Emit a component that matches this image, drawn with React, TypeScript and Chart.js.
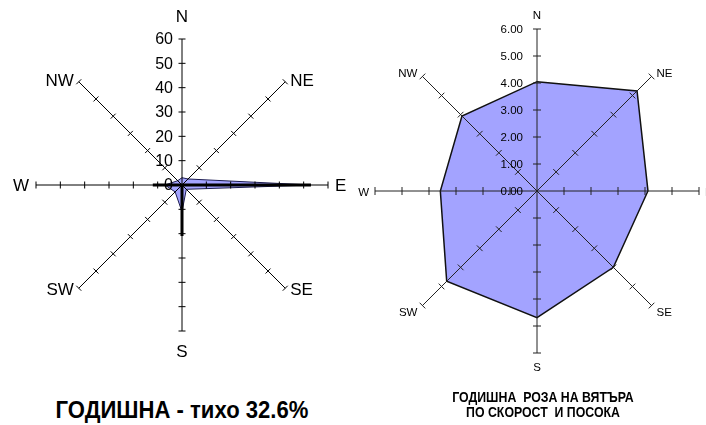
import React, { useEffect, useRef } from 'react';
import { Chart, registerables } from 'chart.js';

Chart.register(...registerables);

// ---- data ----
const directions = ['N', 'NE', 'E', 'SE', 'S', 'SW', 'W', 'NW'];
const freqTicks = [0, 10, 20, 30, 40, 50, 60];
const freqValues = [3, 3.5, 53, 2.5, 11, 4, 7, 2.5];
const freqPeak = [0, 0, 53, 0, 21, 0, 12, 0];
const speedTicks = [0, 1, 2, 3, 4, 5, 6];
const speedValues = [4.05, 5.24, 4.11, 4.0, 4.69, 4.73, 3.58, 3.93];
const leftTitle = 'ГОДИШНА - тихо 32.6%';
const rightTitle = ['ГОДИШНА  РОЗА НА ВЯТЪРА', 'ПО СКОРОСТ  И ПОСОКА'];

const FONT = '"Liberation Sans", Arial, sans-serif';

type AxisCfg = {
  ticks: number[];
  fmt: (v: number) => string;
  axisColor: string;
  tickLen: number;
  tickFont: string;
  tickGap: number;
  labelFont: string;
  gapTop: number;
  gapBottom: number;
  gapSide: number;
  gapDiag: number;
  diagDy: number;
  yShift: number;
};

function makeAxisPlugin(cfg: AxisCfg) {
  return {
    id: 'windAxes',
    afterDatasetsDraw(chart: any) {
      const s: any = chart.scales.r;
      const ctx: CanvasRenderingContext2D = chart.ctx;
      const n = chart.data.labels.length;
      ctx.save();
      ctx.strokeStyle = cfg.axisColor;
      ctx.lineWidth = 1;
      for (let i = 0; i < n; i++) {
        const c = s.getPointPositionForValue(i, 0);
        const e = s.getPointPositionForValue(i, s.max);
        ctx.beginPath();
        ctx.moveTo(c.x, c.y);
        ctx.lineTo(e.x, e.y);
        ctx.stroke();
        const px = -Math.sin(e.angle);
        const py = Math.cos(e.angle);
        for (const v of cfg.ticks) {
          if (v === 0) continue;
          const p = s.getPointPositionForValue(i, v);
          ctx.beginPath();
          ctx.moveTo(p.x - px * cfg.tickLen, p.y - py * cfg.tickLen);
          ctx.lineTo(p.x + px * cfg.tickLen, p.y + py * cfg.tickLen);
          ctx.stroke();
        }
        // direction label
        const dx = Math.cos(e.angle);
        const dy = Math.sin(e.angle);
        ctx.fillStyle = '#000';
        ctx.font = cfg.labelFont;
        let x = e.x;
        let y = e.y;
        if (Math.abs(dx) < 0.1) {
          ctx.textAlign = 'center';
          if (dy < 0) {
            ctx.textBaseline = 'bottom';
            y = e.y - cfg.gapTop;
          } else {
            ctx.textBaseline = 'top';
            y = e.y + cfg.gapBottom;
          }
        } else {
          ctx.textAlign = dx > 0 ? 'left' : 'right';
          ctx.textBaseline = 'middle';
          const diag = Math.abs(dy) > 0.1;
          x = e.x + Math.sign(dx) * (diag ? cfg.gapDiag : cfg.gapSide);
          y = e.y + (diag ? Math.sign(dy) * cfg.diagDy : 0) + cfg.yShift;
        }
        ctx.fillText(chart.data.labels[i], x, y);
      }
      // value labels along N axis
      ctx.font = cfg.tickFont;
      ctx.textAlign = 'right';
      ctx.textBaseline = 'middle';
      ctx.fillStyle = '#000';
      for (const v of cfg.ticks) {
        const p = s.getPointPositionForValue(0, v);
        ctx.fillText(cfg.fmt(v), p.x - cfg.tickGap, p.y + 1);
      }
      ctx.restore();
    },
  };
}

function RoseChart(props: {
  width: number;
  height: number;
  padding: { left: number; top: number; right: number; bottom: number };
  max: number;
  datasets: any[];
  cfg: AxisCfg;
}) {
  const ref = useRef<HTMLCanvasElement | null>(null);
  useEffect(() => {
    if (!ref.current) return;
    const chart = new Chart(ref.current, {
      type: 'radar',
      data: { labels: directions, datasets: props.datasets },
      options: {
        responsive: false,
        animation: false,
        devicePixelRatio: 1,
        layout: { padding: props.padding },
        plugins: { legend: { display: false }, tooltip: { enabled: false } },
        elements: { point: { radius: 0, hoverRadius: 0 }, line: { tension: 0 } },
        scales: {
          r: {
            min: 0,
            max: props.max,
            ticks: { display: false },
            grid: { display: false },
            angleLines: { display: false },
            pointLabels: { display: false },
          },
        },
      } as any,
      plugins: [makeAxisPlugin(props.cfg)],
    });
    return () => chart.destroy();
  }, []);
  return (
    <canvas
      ref={ref}
      width={props.width}
      height={props.height}
      style={{ width: props.width, height: props.height, display: 'block' }}
    />
  );
}

export default function App() {
  const leftDatasets = [
    {
      data: freqPeak,
      borderColor: '#000',
      borderWidth: 3,
      backgroundColor: 'rgba(0,0,0,0)',
      fill: false,
      order: 0,
    },
    {
      data: freqValues,
      borderColor: '#1c1c50',
      borderWidth: 1,
      backgroundColor: 'rgb(163,163,255)',
      fill: true,
      order: 1,
    },
  ];
  const rightDatasets = [
    {
      data: speedValues,
      borderColor: '#111',
      borderWidth: 1.5,
      backgroundColor: 'rgb(163,163,255)',
      fill: true,
    },
  ];
  const leftCfg: AxisCfg = {
    ticks: freqTicks,
    fmt: (v) => String(v),
    axisColor: '#000',
    tickLen: 3.5,
    tickFont: `16px ${FONT}`,
    tickGap: 9,
    labelFont: `17px ${FONT}`,
    gapTop: 13,
    gapBottom: 13,
    gapSide: 7,
    gapDiag: 5,
    diagDy: 1,
    yShift: 1,
  };
  const rightCfg: AxisCfg = {
    ticks: speedTicks,
    fmt: (v) => v.toFixed(2),
    axisColor: '#222',
    tickLen: 4,
    tickFont: `11.5px ${FONT}`,
    tickGap: 14,
    labelFont: `11.5px ${FONT}`,
    gapTop: 7,
    gapBottom: 9,
    gapSide: 6,
    gapDiag: 5,
    diagDy: 5,
    yShift: 2,
  };
  return (
    <div style={{ position: 'fixed', left: 0, top: 0, width: 706, height: 425, background: '#fff', overflow: 'hidden' }}>
      <div style={{ position: 'absolute', left: 0, top: 0 }}>
        <RoseChart
          width={360}
          height={380}
          padding={{ left: 36, top: 39, right: 32, bottom: 49 }}
          max={60}
          datasets={leftDatasets}
          cfg={leftCfg}
        />
      </div>
      <div style={{ position: 'absolute', left: 340, top: 0 }}>
        <RoseChart
          width={366}
          height={380}
          padding={{ left: 35, top: 29, right: 7, bottom: 27 }}
          max={6}
          datasets={rightDatasets}
          cfg={rightCfg}
        />
      </div>
      <div
        style={{
          position: 'absolute',
          left: 0,
          top: 396,
          width: 364,
          textAlign: 'center',
          font: `bold 24px ${FONT}`,
          lineHeight: '28px',
          color: '#000',
          transform: 'scaleX(0.92)',
          transformOrigin: 'center',
          whiteSpace: 'pre',
        }}
      >
        {leftTitle}
      </div>
      <div
        style={{
          position: 'absolute',
          left: 380,
          top: 390,
          width: 326,
          textAlign: 'center',
          font: `bold 14px ${FONT}`,
          lineHeight: '15px',
          color: '#000',
          transform: 'scaleX(0.88)',
          transformOrigin: 'center',
          whiteSpace: 'pre',
        }}
      >
        {rightTitle[0]}
        <br />
        {rightTitle[1]}
      </div>
    </div>
  );
}
